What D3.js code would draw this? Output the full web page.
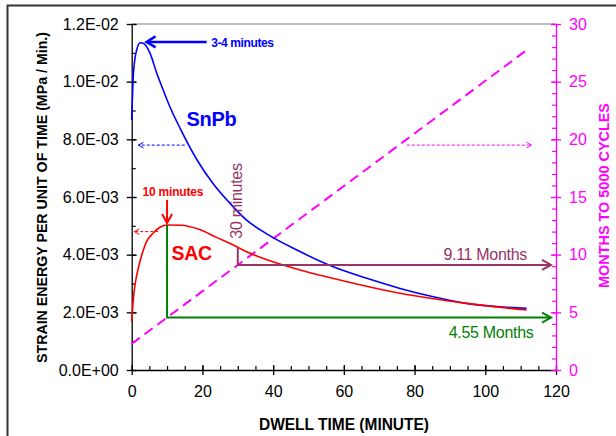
<!DOCTYPE html>
<html>
<head>
<meta charset="utf-8">
<script src="https://cdn.jsdelivr.net/npm/d3@7"></script>
<style>
  html, body { margin: 0; padding: 0; background: #fff; }
  svg { display: block; font-family: Arial, "Liberation Sans", sans-serif; }
</style>
</head>
<body>
<svg id="chart" width="616" height="436"></svg>
<script>
// Dwell time (minutes) and strain energy per unit of time (MPa / Min.)
const snpbTime   = [0, 0.5, 1.4, 2.4, 3.3, 5.2, 7.1, 8.9, 10.8, 13.7, 15.6, 18.4, 23.1, 27.8, 32.5, 38.2, 46.7, 57, 66.5, 75.9, 85.3, 94.7, 111.7];
const snpbEnergy = [8.67e-3, 10.3e-3, 11.1e-3, 11.35e-3, 11.33e-3, 10.98e-3, 10.29e-3, 9.71e-3, 9.13e-3, 8.38e-3, 7.92e-3, 7.3e-3, 6.45e-3, 5.78e-3, 5.2e-3, 4.72e-3, 4.16e-3, 3.58e-3, 3.18e-3, 2.83e-3, 2.54e-3, 2.31e-3, 2.14e-3];

const sacTime   = [0, 0.5, 1, 2, 3.3, 4.2, 6.1, 8, 10, 14, 19, 24, 28, 32.5, 38.2, 47.6, 62.7, 75.9, 94.7, 111.7];
const sacEnergy = [1.68e-3, 2.5e-3, 3.0e-3, 3.6e-3, 4.16e-3, 4.45e-3, 4.75e-3, 4.95e-3, 5.03e-3, 5.02e-3, 4.88e-3, 4.6e-3, 4.38e-3, 4.1e-3, 3.82e-3, 3.47e-3, 3.01e-3, 2.66e-3, 2.31e-3, 2.08e-3];

// Months to 5000 cycles vs dwell time (straight line)
const monthsTime  = [0, 111.5];
const monthsValue = [2.27, 27.69];

// Reference markers
const sacPeakTime = 10, sacPeakMonths = 4.55;
const sac30Time = 30, sac30Energy = 4.25e-3, sac30Months = 9.11;

// Axis ticks
const xTicks = [0, 20, 40, 60, 80, 100, 120];
const xMinorTicks = d3.range(0, 121, 5);
const leftTicks = [0, 0.002, 0.004, 0.006, 0.008, 0.010, 0.012];
const leftTickLabels = ["0.0E+00", "2.0E-03", "4.0E-03", "6.0E-03", "8.0E-03", "1.0E-02", "1.2E-02"];
const leftMinorTicks = d3.range(0, 13).map(i => i * 0.001);
const rightTicks = [0, 5, 10, 15, 20, 25, 30];
const rightMinorTicks = d3.range(0, 31, 1);

const svg = d3.select("#chart");
const plotLeft = 131.7, plotRight = 556, plotTop = 24, plotBottom = 370;

const x = d3.scaleLinear().domain([0, 120]).range([plotLeft, plotRight]);
const yL = d3.scaleLinear().domain([0, 0.012]).range([plotBottom, plotTop]);
const yR = d3.scaleLinear().domain([0, 30]).range([plotBottom, plotTop]);

// outer frame
svg.append("rect").attr("x", 7.5).attr("y", 5.5).attr("width", 640).attr("height", 460)
  .attr("fill", "none").attr("stroke", "#333").attr("stroke-width", 2);

// plot area top edge
svg.append("line").attr("x1", plotLeft).attr("x2", plotRight).attr("y1", plotTop).attr("y2", plotTop)
  .attr("stroke", "#808080").attr("stroke-width", 1);

const MAG = "#ff00ff", BLUE = "#0000ff", RED = "#ff0000", GREEN = "#008000", PLUM = "#993366";

// ---- axes ----
function styleAxis(g, color) {
  g.select(".domain").attr("stroke", color).attr("stroke-width", 1.3);
  g.selectAll(".tick line").attr("stroke", color).attr("stroke-width", 1.3);
  g.selectAll(".tick text").attr("fill", color).style("font-size", "16px")
    .style("font-family", "Arial, 'Liberation Sans', sans-serif");
}

// minor ticks (inside)
svg.append("g").attr("transform", `translate(${plotLeft},0)`)
  .call(d3.axisRight(yL).tickValues(leftMinorTicks).tickSize(4).tickFormat(""))
  .call(g => { g.select(".domain").remove(); g.selectAll(".tick line").attr("stroke", "#000").attr("stroke-width", 1.2); });
svg.append("g").attr("transform", `translate(0,${plotBottom})`)
  .call(d3.axisTop(x).tickValues(xMinorTicks).tickSize(4).tickFormat(""))
  .call(g => { g.select(".domain").remove(); g.selectAll(".tick line").attr("stroke", "#000").attr("stroke-width", 1.2); });
svg.append("g").attr("transform", `translate(${plotRight},0)`)
  .call(d3.axisLeft(yR).tickValues(rightMinorTicks).tickSize(4).tickFormat(""))
  .call(g => { g.select(".domain").remove(); g.selectAll(".tick line").attr("stroke", MAG).attr("stroke-width", 1.2); });

// left axis
const gL = svg.append("g").attr("transform", `translate(${plotLeft},0)`)
  .call(d3.axisLeft(yL).tickValues(leftTicks).tickSizeOuter(0).tickSizeInner(5).tickPadding(8)
    .tickFormat((d, i) => leftTickLabels[i]));
styleAxis(gL, "#000");
gL.selectAll(".tick line").attr("x2", 5).attr("x1", -5);

// bottom axis
const gB = svg.append("g").attr("transform", `translate(0,${plotBottom})`)
  .call(d3.axisBottom(x).tickValues(xTicks).tickSizeOuter(0).tickSizeInner(5).tickPadding(11));
styleAxis(gB, "#000");
gB.selectAll(".tick line").attr("y1", -5).attr("y2", 5);

// right axis
const gR = svg.append("g").attr("transform", `translate(${plotRight},0)`)
  .call(d3.axisRight(yR).tickValues(rightTicks).tickSizeOuter(0).tickSizeInner(5).tickPadding(8));
styleAxis(gR, MAG);
gR.selectAll(".tick line").attr("x1", -5).attr("x2", 5);

// axis titles
svg.append("text").attr("transform", `translate(46.5,197.5) rotate(-90)`)
  .attr("text-anchor", "middle").attr("font-weight", "bold").attr("font-size", 15)
  .attr("textLength", 331).attr("lengthAdjust", "spacingAndGlyphs")
  .text("STRAIN ENERGY PER UNIT OF TIME (MPa / Min.)");
svg.append("text").attr("x", 344).attr("y", 430)
  .attr("text-anchor", "middle").attr("font-weight", "bold").attr("font-size", 16)
  .attr("textLength", 170).attr("lengthAdjust", "spacingAndGlyphs")
  .text("DWELL TIME (MINUTE)");
svg.append("text").attr("transform", `translate(608.5,195.5) rotate(-90)`)
  .attr("text-anchor", "middle").attr("font-weight", "bold").attr("font-size", 14.5)
  .attr("fill", MAG)
  .attr("textLength", 185).attr("lengthAdjust", "spacingAndGlyphs")
  .text("MONTHS TO 5000 CYCLES");

// ---- series ----
const lineL = d3.line().x(d => x(d[0])).y(d => yL(d[1])).curve(d3.curveMonotoneX);

svg.append("path").datum(d3.zip(monthsTime, monthsValue))
  .attr("d", d3.line().x(d => x(d[0])).y(d => yR(d[1])))
  .attr("fill", "none").attr("stroke", MAG).attr("stroke-width", 2)
  .attr("stroke-dasharray", "10,6");

svg.append("path").datum(d3.zip(snpbTime, snpbEnergy)).attr("d", lineL)
  .attr("fill", "none").attr("stroke", BLUE).attr("stroke-width", 1.6);
svg.append("path").datum(d3.zip(sacTime, sacEnergy)).attr("d", lineL)
  .attr("fill", "none").attr("stroke", RED).attr("stroke-width", 1.6);

// ---- annotations ----
function arrowHead(tx, ty, dir, len, half, color, width) {
  // dir: angle of travel in radians; open "V" head at (tx, ty)
  const a1 = dir + Math.PI - Math.atan2(half, len), a2 = dir + Math.PI + Math.atan2(half, len);
  const L = Math.hypot(len, half);
  svg.append("path")
    .attr("d", `M${tx + L * Math.cos(a1)},${ty + L * Math.sin(a1)}L${tx},${ty}L${tx + L * Math.cos(a2)},${ty + L * Math.sin(a2)}`)
    .attr("fill", "none").attr("stroke", color).attr("stroke-width", width);
}

// dotted guides
function dottedArrow(x1, x2, y, color) {
  svg.append("line").attr("x1", x1).attr("x2", x2).attr("y1", y).attr("y2", y)
    .attr("stroke", color).attr("stroke-width", 1).attr("stroke-dasharray", "3,2");
  arrowHead(x2, y, x2 > x1 ? 0 : Math.PI, 5, 2.8, color, 1);
}
dottedArrow(x(15.0), x(1.9), yL(0.0078), BLUE);
dottedArrow(x(77.8), x(113.1), yR(19.5), MAG);
dottedArrow(x(7.5), x(0.75), yL(0.0048), RED);

// 3-4 minutes peak marker
svg.append("line").attr("x1", x(21.2)).attr("x2", x(4.5)).attr("y1", yL(0.01138)).attr("y2", yL(0.01138))
  .attr("stroke", BLUE).attr("stroke-width", 2.5);
arrowHead(x(4.2), yL(0.01138), Math.PI, 9, 5.5, BLUE, 2.5);
svg.append("text").attr("x", x(22.5)).attr("y", 46.5).attr("fill", BLUE)
  .attr("font-weight", "bold").attr("font-size", 12).attr("letter-spacing", -0.4)
  .text("3-4 minutes");

// 10 minutes peak marker
svg.append("line").attr("x1", x(sacPeakTime)).attr("x2", x(sacPeakTime)).attr("y1", yL(0.0059)).attr("y2", yL(0.00508))
  .attr("stroke", RED).attr("stroke-width", 2);
arrowHead(x(sacPeakTime), yL(0.0051), Math.PI / 2, 9, 5, RED, 2);
svg.append("text").attr("x", 142.5).attr("y", 196).attr("fill", RED)
  .attr("font-weight", "bold").attr("font-size", 12).attr("letter-spacing", -0.2)
  .text("10 minutes");

// series labels
svg.append("text").attr("x", 186.5).attr("y", 125.5).attr("fill", BLUE)
  .attr("font-weight", "bold").attr("font-size", 20).attr("letter-spacing", -0.3).text("SnPb");
svg.append("text").attr("x", 171.5).attr("y", 260).attr("fill", RED)
  .attr("font-weight", "bold").attr("font-size", 19.5).attr("letter-spacing", -0.3).text("SAC");

// green: 10 min -> 4.55 months
svg.append("path")
  .attr("d", `M${x(sacPeakTime)},${yL(0.00503)}V${yR(sacPeakMonths)}H${x(118.4)}`)
  .attr("fill", "none").attr("stroke", GREEN).attr("stroke-width", 2);
arrowHead(x(118.6), yR(sacPeakMonths), 0, 9, 5, GREEN, 2);
svg.append("text").attr("x", 533.5).attr("y", 338).attr("text-anchor", "end")
  .attr("fill", GREEN).attr("font-size", 16).attr("letter-spacing", -0.3).text("4.55 Months");

// plum: 30 min -> 9.11 months
svg.append("path")
  .attr("d", `M${x(sac30Time)},${yL(sac30Energy)}V${yR(sac30Months)}H${x(118.4)}`)
  .attr("fill", "none").attr("stroke", PLUM).attr("stroke-width", 2);
arrowHead(x(118.6), yR(sac30Months), 0, 9, 5, PLUM, 2);
svg.append("text").attr("x", 527).attr("y", 260).attr("text-anchor", "end")
  .attr("fill", PLUM).attr("font-size", 16).attr("letter-spacing", -0.3).text("9.11 Months");
svg.append("text").attr("transform", `translate(241.5,201) rotate(-90)`).attr("text-anchor", "middle")
  .attr("fill", PLUM).attr("font-size", 16).attr("letter-spacing", -0.3).text("30 minutes");
</script>
</body>
</html>
